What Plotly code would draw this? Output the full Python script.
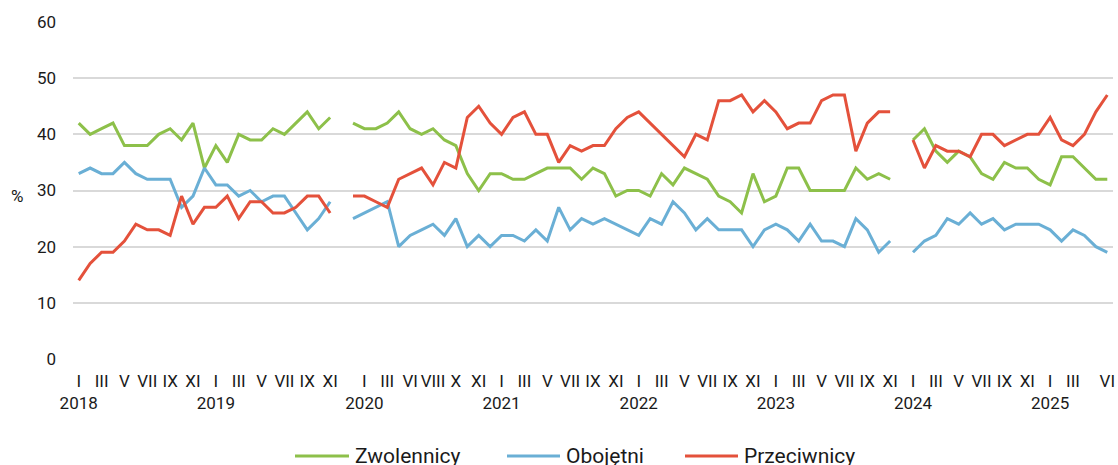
import plotly.graph_objects as go

# kolejne badania (sloty na osi), None = brak badania
lata = [2018, 2019, 2020, 2021, 2022, 2023, 2024, 2025]

miesiace = [
    "I", "", "III", "", "V", "", "VII", "", "IX", "", "XI", "",          # 2018
    "I", "", "III", "", "V", "", "VII", "", "IX", "", "XI", "",          # 2019
    "", "I", "", "III", "", "VI", "", "VIII", "", "X", "", "XI", "",     # 2020
    "I", "", "III", "", "V", "", "VII", "", "IX", "", "XI", "",          # 2021
    "I", "", "III", "", "V", "", "VII", "", "IX", "", "XI", "",          # 2022
    "I", "", "III", "", "V", "", "VII", "", "IX", "", "XI", "",          # 2023
    "I", "", "III", "", "V", "", "VII", "", "IX", "", "XI", "",          # 2024
    "I", "", "III", "", "", "VI",                                        # 2025
]

zwolennicy = [
    42, 40, 41, 42, 38, 38, 38, 40, 41, 39, 42, 34,
    38, 35, 40, 39, 39, 41, 40, 42, 44, 41, 43, None,
    42, 41, 41, 42, 44, 41, 40, 41, 39, 38, 33, 30, 33,
    33, 32, 32, 33, 34, 34, 34, 32, 34, 33, 29, 30,
    30, 29, 33, 31, 34, 33, 32, 29, 28, 26, 33, 28,
    29, 34, 34, 30, 30, 30, 30, 34, 32, 33, 32, None,
    39, 41, 37, 35, 37, 36, 33, 32, 35, 34, 34, 32,
    31, 36, 36, 34, 32, 32,
]

obojetni = [
    33, 34, 33, 33, 35, 33, 32, 32, 32, 27, 29, 34,
    31, 31, 29, 30, 28, 29, 29, 26, 23, 25, 28, None,
    25, 26, 27, 28, 20, 22, 23, 24, 22, 25, 20, 22, 20,
    22, 22, 21, 23, 21, 27, 23, 25, 24, 25, 24, 23,
    22, 25, 24, 28, 26, 23, 25, 23, 23, 23, 20, 23,
    24, 23, 21, 24, 21, 21, 20, 25, 23, 19, 21, None,
    19, 21, 22, 25, 24, 26, 24, 25, 23, 24, 24, 24,
    23, 21, 23, 22, 20, 19,
]

przeciwnicy = [
    14, 17, 19, 19, 21, 24, 23, 23, 22, 29, 24, 27,
    27, 29, 25, 28, 28, 26, 26, 27, 29, 29, 26, None,
    29, 29, 28, 27, 32, 33, 34, 31, 35, 34, 43, 45, 42,
    40, 43, 44, 40, 40, 35, 38, 37, 38, 38, 41, 43,
    44, 42, 40, 38, 36, 40, 39, 46, 46, 47, 44, 46,
    44, 41, 42, 42, 46, 47, 47, 37, 42, 44, 44, None,
    39, 34, 38, 37, 37, 36, 40, 40, 38, 39, 40, 40,
    43, 39, 38, 40, 44, 47,
]

serie = [
    ("Zwolennicy", zwolennicy, "#8DC04A"),
    ("Obojętni", obojetni, "#6AAFD5"),
    ("Przeciwnicy", przeciwnicy, "#E4513B"),
]

W, H = 1118, 465
ML, MR, MT, MB = 73, 5, 22, 106
PW = W - ML - MR
PH = H - MT - MB


def px_x(p):
    # piksel na stronie -> wspolrzedne paper
    return (p - ML) / PW


def px_y(p):
    return (H - MB - p) / PH


x = list(range(len(miesiace)))

# opisy osi x: miesiac, a pod "I" jeszcze rok
tickvals = []
ticktext = []
rok = iter(lata)
for i, m in enumerate(miesiace):
    if not m:
        continue
    tickvals.append(i)
    if m == "I":
        ticktext.append(m + "<br>" + str(next(rok)))
    else:
        ticktext.append(m)

fig = go.Figure()
for nazwa, y, kolor in serie:
    fig.add_trace(go.Scatter(
        x=x, y=y, name=nazwa, mode="lines",
        line=dict(color=kolor, width=3),
        connectgaps=False, showlegend=False,
    ))

# legenda recznie (dluzsze kreski niz w plotly)
legenda_x = [(295, 349, 353), (507, 560, 564), (685, 738, 742)]
for (nazwa, _, kolor), (x0, x1, xt) in zip(serie, legenda_x):
    fig.add_shape(
        type="line", xref="paper", yref="paper",
        x0=px_x(x0), x1=px_x(x1), y0=px_y(456), y1=px_y(456),
        line=dict(color=kolor, width=3),
    )
    fig.add_annotation(
        text=nazwa, xref="paper", yref="paper", x=px_x(xt), y=px_y(456),
        xanchor="left", yanchor="middle", showarrow=False,
        font=dict(size=21, color="#1a1a1a"),
    )

fig.add_annotation(
    text="%", xref="paper", yref="y", x=px_x(17), y=29,
    xanchor="center", yanchor="middle", showarrow=False,
    font=dict(size=17, color="#1a1a1a"),
)

fig.update_layout(
    width=W, height=H,
    margin=dict(l=ML, r=MR, t=MT, b=MB, autoexpand=False),
    plot_bgcolor="white", paper_bgcolor="white",
    font=dict(family="Roboto", size=17, color="#1a1a1a"),
    xaxis=dict(
        range=[-0.5, len(miesiace) - 0.5],
        tickvals=tickvals, ticktext=ticktext, tickangle=0,
        showgrid=False, zeroline=False, showline=False, ticks="",
        ticklabelstandoff=10, automargin=False, ticklabeloverflow="allow",
    ),
    yaxis=dict(
        range=[0, 60], dtick=10,
        showgrid=True, gridcolor="#D9D9D9", gridwidth=1.5,
        zeroline=False, showline=False, ticks="",
        ticklabelstandoff=16, automargin=False,
    ),
)

# bez domyslnego marginesu strony, zeby wykres wypelnil okno
fig.write_html(
    "out.html",
    config={"displayModeBar": False},
    post_script="document.body.style.margin='0';",
)
